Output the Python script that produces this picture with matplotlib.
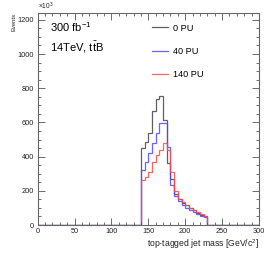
import numpy as np
import matplotlib
matplotlib.use('Agg')
import matplotlib.pyplot as plt
from matplotlib.ticker import MultipleLocator

plt.rcParams['font.family'] = ['Liberation Sans', 'DejaVu Sans']
plt.rcParams['mathtext.fontset'] = 'custom'
plt.rcParams['mathtext.rm'] = 'Liberation Sans'
plt.rcParams['mathtext.it'] = 'Liberation Sans:italic'

# histogram contents (x10^3 events), 5 GeV bins from 140 to 230
bin_lo = 140
bin_w = 5
pu0 = [450, 485, 540, 665, 735, 755, 615, 365, 270, 180, 150, 130, 115, 100, 85, 70, 60, 50]
pu40 = [322, 371, 423, 478, 537, 599, 595, 455, 235, 170, 140, 115, 100, 88, 75, 65, 53, 45]
pu140 = [263, 280, 312, 371, 410, 440, 478, 440, 312, 200, 155, 135, 115, 100, 88, 75, 62, 50]
labels = ['0 PU', '40 PU', '140 PU']
colors = ['#444444', '#4a4aff', '#ff4a4a']

edges = np.arange(0, 300 + bin_w, bin_w)

fig = plt.figure(figsize=(2.70, 2.59), dpi=100)
ax = fig.add_axes([37.7 / 270, 1 - 225 / 259, (259 - 37.7) / 270, (225 - 13) / 259])

for vals, lab, col in zip([pu0, pu40, pu140], labels, colors):
    full = np.zeros(len(edges) - 1)
    i0 = bin_lo // bin_w
    full[i0:i0 + len(vals)] = vals
    ax.stairs(full, edges, color=col, lw=0.9, alpha=0.85, label=lab, baseline=0)

ax.set_xlim(0, 300)
ax.set_ylim(0, 1240)
ax.xaxis.set_major_locator(MultipleLocator(50))
ax.xaxis.set_minor_locator(MultipleLocator(10))
ax.yaxis.set_major_locator(MultipleLocator(200))
ax.yaxis.set_minor_locator(MultipleLocator(50))
ax.tick_params(which='both', direction='in', top=True, right=True,
               colors='#555555', labelcolor='#222222', labelsize=5.3, width=0.6)
ax.tick_params(which='major', length=5, pad=2.5)
ax.tick_params(which='minor', length=2.5)
for s in ax.spines.values():
    s.set_color('#666666')
    s.set_linewidth(0.8)

ax.set_xlabel('top-tagged jet mass [GeV/c$^2$]', fontsize=6.2, color='#222222', loc='right', labelpad=1)
ax.set_ylabel('Events', fontsize=4.2, color='#222222', loc='top', labelpad=1)
ax.text(0.0, 1.005, r'$\times10^{3}$', transform=ax.transAxes, fontsize=4.8, color='#222222', va='bottom')

ax.text(50 / 270, 1 - 27 / 259, '300 fb$^{-1}$', transform=fig.transFigure, fontsize=8, va='center')
ax.text(50 / 270, 1 - 47 / 259, r'14TeV, t$\bar{\rm t}$B', transform=fig.transFigure, fontsize=8, va='center')

leg = ax.legend(loc='upper left', bbox_to_anchor=(147 / 270, 1 - 19 / 259), bbox_transform=fig.transFigure,
                frameon=False, fontsize=6.6, handlelength=1.75, handletextpad=0.55, labelspacing=1.57,
                borderpad=0)
for h in leg.get_lines():
    h.set_linewidth(0.9)

fig.savefig('out.png', dpi=100)
